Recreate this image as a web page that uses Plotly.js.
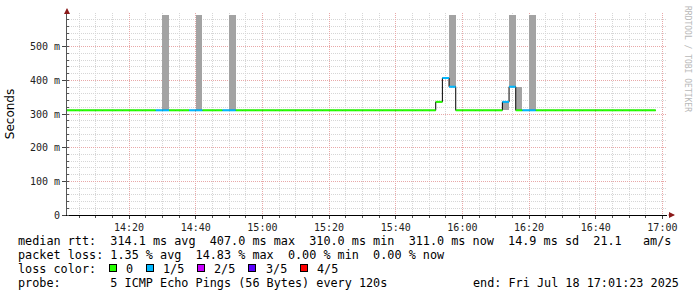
<!DOCTYPE html>
<html><head><meta charset="utf-8">
<script src="https://cdn.plot.ly/plotly-3.0.1.min.js"></script>
<style>html,body{margin:0;padding:0;background:#fff}#chart{width:697px;height:297px}</style>
</head><body><div id="chart"></div>
<script>
const DAY = '2025-07-18 ';
// end time of each 2-minute sample
const sampleEnd = [
 '14:02','14:04','14:06','14:08','14:10','14:12','14:14','14:16','14:18','14:20',
 '14:22','14:24','14:26','14:28','14:30','14:32','14:34','14:36','14:38','14:40',
 '14:42','14:44','14:46','14:48','14:50','14:52','14:54','14:56','14:58','15:00',
 '15:02','15:04','15:06','15:08','15:10','15:12','15:14','15:16','15:18','15:20',
 '15:22','15:24','15:26','15:28','15:30','15:32','15:34','15:36','15:38','15:40',
 '15:42','15:44','15:46','15:48','15:50','15:52','15:54','15:56','15:58','16:00',
 '16:02','16:04','16:06','16:08','16:10','16:12','16:14','16:16','16:18','16:20',
 '16:22','16:24','16:26','16:28','16:30','16:32','16:34','16:36','16:38','16:40',
 '16:42','16:44','16:46','16:48','16:50','16:52','16:54','16:56','16:58'];
// median rtt in ms
const medianMs = [
 311,311,311,311,311,311,311,311,311,311,
 311,311,311,311,311,311,311,311,311,311,
 311,311,311,311,311,311,311,311,311,311,
 311,311,311,311,311,311,311,311,311,311,
 311,311,311,311,311,311,311,311,311,311,
 311,311,311,311,311,311,336,407,381,311,
 311,311,311,311,311,311,336,381,311,311,
 311,311,311,311,311,311,311,311,311,311,
 311,311,311,311,311,311,311,311,311];
// lost pings (of 5)
const lossCount = [
 0,0,0,0,0,0,0,0,0,0,
 0,0,0,0,1,1,0,0,0,1,
 1,0,0,0,1,1,0,0,0,0,
 0,0,0,0,0,0,0,0,0,0,
 0,0,0,0,0,0,0,0,0,0,
 0,0,0,0,0,0,0,1,1,0,
 0,0,0,0,0,0,1,1,0,1,
 1,0,0,0,0,0,0,0,0,0,
 0,0,0,0,0,0,0,0,0];
// smoke (ping spread) for samples where it is visible
const smokeEnd = ['14:32','14:42','14:52','15:58','16:14','16:16','16:18','16:22'];
const smokeLoMs = [311,311,311,381,311,381,311,311];
const smokeHiMs = [595,595,595,595,336,595,381,595];

const lossLabels = ['0','1/5','2/5','3/5','4/5'];
const lossColors = ['#26ff00','#00b8ff','#c800ff','#5a00ff','#ff0000'];

const yTickVals = [0,0.1,0.2,0.3,0.4,0.5];
const yTickText = ['0','100 m','200 m','300 m','400 m','500 m'];

const statLines = [
 'median rtt:  314.1 ms avg  407.0 ms max  310.0 ms min  311.0 ms now  14.9 ms sd  21.1   am/s',
 'packet loss: 1.35 % avg  14.83 % max  0.00 % min  0.00 % now',
 'loss color:',
 'probe:       5 ICMP Echo Pings (56 Bytes) every 120s'];
const endLabel = 'end: Fri Jul 18 17:01:23 2025';
const watermark = 'RRDTOOL / TOBI OETIKER';

function ts(hhmm, shiftMin) {
  let [h, m] = hhmm.split(':').map(Number);
  let t = h * 60 + m + shiftMin;
  const hh = String(Math.floor(t / 60)).padStart(2, '0');
  const mm = String(t % 60).padStart(2, '0');
  return DAY + hh + ':' + mm + ':00';
}

const traces = [];
// smoke bars
traces.push({
  type: 'bar',
  x: smokeEnd.map(t => ts(t, -1)),
  base: smokeLoMs.map(v => v / 1000),
  y: smokeHiMs.map((v, i) => (v - smokeLoMs[i]) / 1000),
  width: smokeEnd.map(() => 120000),
  marker: {color: '#a3a3a3', line: {width: 0}},
  hoverinfo: 'skip'
});
// black step connector
const bx = [], by = [];
sampleEnd.forEach((t, i) => {
  bx.push(ts(t, -2), ts(t, 0));
  by.push(medianMs[i] / 1000, medianMs[i] / 1000);
});
traces.push({type: 'scatter', mode: 'lines', x: bx, y: by,
  line: {color: '#000', width: 1}, hoverinfo: 'skip'});
// coloured median segments by loss
lossColors.forEach((c, k) => {
  const x = [], y = [];
  sampleEnd.forEach((t, i) => {
    if (lossCount[i] === k) {
      x.push(ts(t, -2), ts(t, 0), null);
      y.push(medianMs[i] / 1000, medianMs[i] / 1000, null);
    }
  });
  if (x.length) traces.push({type: 'scatter', mode: 'lines', x, y,
    line: {color: c, width: 2}, connectgaps: false, hoverinfo: 'skip'});
});

const L = 67, T = 13, PW = 600, PH = 202;
const px = v => (v - L) / PW;
const py = v => (T + PH - v) / PH;
const nb = s => s.replace(/ /g, '\u00a0');
const mono = {family: 'DejaVu Sans Mono', size: 11.8, color: '#000'};

const ann = [];
const rowsY = [241, 255, 269, 283];
statLines.forEach((s, i) => {
  ann.push({xref: 'paper', yref: 'paper', x: px(16), y: py(rowsY[i]), xanchor: 'left', yanchor: 'middle',
    text: nb(s), showarrow: false, font: mono});
});
ann.push({xref: 'paper', yref: 'paper', x: px(681), y: py(283), xanchor: 'right', yanchor: 'middle',
  text: nb(endLabel), showarrow: false, font: mono});
let cur = 108.5;
lossLabels.forEach((lab, k) => {
  ann.push({xref: 'paper', yref: 'paper', x: px(cur), y: py(268), xanchor: 'left', yanchor: 'middle',
    text: '\u00a0', showarrow: false, width: 6, height: 6, borderpad: 0,
    bgcolor: lossColors[k], bordercolor: '#000', borderwidth: 1, font: {size: 4}});
  const lx = cur + 15.5;
  ann.push({xref: 'paper', yref: 'paper', x: px(lx), y: py(rowsY[2]), xanchor: 'left', yanchor: 'middle',
    text: lab, showarrow: false, font: mono});
  cur = lx + lab.length * 7.1 + 14.5;
});
// watermark
ann.push({xref: 'paper', yref: 'paper', x: px(687), y: py(59), xanchor: 'center', yanchor: 'middle',
  text: nb(watermark), textangle: 90, showarrow: false,
  font: {family: 'DejaVu Sans Mono', size: 8, color: '#b8b8b8'}});
// axis arrows
ann.push({xref: 'paper', yref: 'paper', x: 0, y: py(8), ax: 0, ay: 6, text: '', showarrow: true,
  arrowhead: 2, arrowsize: 1.2, arrowwidth: 1, arrowcolor: '#8b1a1a', standoff: 0});
ann.push({xref: 'paper', yref: 'paper', x: px(675), y: 0, ax: -8, ay: 0, text: '', showarrow: true,
  arrowhead: 2, arrowsize: 1.2, arrowwidth: 1, arrowcolor: '#8b1a1a', standoff: 0});

const layout = {
  width: 697, height: 297,
  margin: {l: L, r: 697 - L - PW, t: T, b: 297 - T - PH, pad: 0},
  paper_bgcolor: '#fff', plot_bgcolor: '#fff',
  showlegend: false, bargap: 0, barmode: 'overlay',
  xaxis: {
    type: 'date', range: [DAY + '14:01:23', DAY + '17:01:23'],
    tick0: DAY + '14:00:00', dtick: 1200000, tickformat: '%H:%M',
    showgrid: true, gridcolor: '#e8a8a8', griddash: '1px,1px', gridwidth: 1,
    minor: {dtick: 300000, showgrid: true, gridcolor: '#d6d6d6', griddash: '1px,1px', gridwidth: 1,
      ticks: 'outside', ticklen: 2, tickcolor: '#555'},
    ticks: 'outside', ticklen: 3, tickcolor: '#444',
    showline: true, linecolor: '#000', linewidth: 1, zeroline: false,
    tickfont: {family: 'DejaVu Sans Mono', size: 10, color: '#222'}, fixedrange: true
  },
  yaxis: {
    range: [0, 0.6], tickvals: yTickVals, ticktext: yTickText,
    showgrid: true, gridcolor: '#e8a8a8', griddash: '1px,1px', gridwidth: 1,
    minor: {dtick: 0.02, showgrid: true, gridcolor: '#d6d6d6', griddash: '1px,1px', gridwidth: 1,
      ticks: 'inside', ticklen: 2, tickcolor: '#555'},
    ticks: 'outside', ticklen: 4, tickcolor: '#444', ticklabelstandoff: 0,
    showline: true, linecolor: '#555', linewidth: 1, zeroline: false,
    tickfont: {family: 'DejaVu Sans Mono', size: 10, color: '#222'},
    title: {text: 'Seconds', font: {family: 'DejaVu Sans', size: 12, color: '#000'}, standoff: 12},
    fixedrange: true
  },
  annotations: ann
};
Plotly.newPlot('chart', traces, layout, {staticPlot: true, displayModeBar: false});
</script></body></html>
